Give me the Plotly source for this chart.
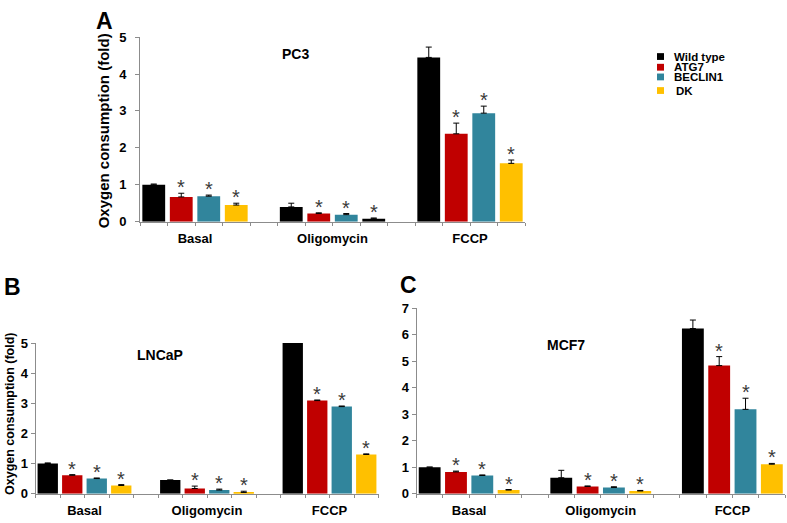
import plotly.graph_objects as go

# ---------------- data ----------------
groups = ["Basal", "Oligomycin", "FCCP"]
series = ["Wild type", "ATG7", "BECLIN1", "DK"]
colors = ["#000000", "#C00000", "#31859C", "#FFC000"]

# PC3 (panel A)
pc3_wt = [1.00, 0.40, 4.45]
pc3_atg7 = [0.67, 0.22, 2.38]
pc3_beclin1 = [0.69, 0.19, 2.94]
pc3_dk = [0.45, 0.08, 1.58]
pc3_wt_err = [0.02, 0.10, 0.28]
pc3_atg7_err = [0.10, 0.02, 0.29]
pc3_beclin1_err = [0.03, 0.03, 0.19]
pc3_dk_err = [0.05, 0.02, 0.09]
pc3_dk_colors = ["#FFC000", "#000000", "#FFC000"]  # Oligomycin DK bar drawn black in the original

# LNCaP (panel B)
lncap_wt = [1.00, 0.45, 5.00]
lncap_atg7 = [0.61, 0.17, 3.09]
lncap_beclin1 = [0.50, 0.12, 2.89]
lncap_dk = [0.27, 0.04, 1.30]
lncap_wt_err = [0.02, 0.00, 0.00]
lncap_atg7_err = [0.02, 0.08, 0.02]
lncap_beclin1_err = [0.02, 0.03, 0.02]
lncap_dk_err = [0.03, 0.04, 0.02]

# MCF7 (panel C)
mcf7_wt = [1.00, 0.60, 6.23]
mcf7_atg7 = [0.82, 0.27, 4.83]
mcf7_beclin1 = [0.685, 0.23, 3.18]
mcf7_dk = [0.135, 0.10, 1.11]
mcf7_wt_err = [0.00, 0.28, 0.32]
mcf7_atg7_err = [0.03, 0.02, 0.34]
mcf7_beclin1_err = [0.02, 0.03, 0.42]
mcf7_dk_err = [0.02, 0.02, 0.03]

y_title = "Oxygen consumption (fold)"

FONT = "Liberation Sans, Arial, sans-serif"
GREY = "#8C8C8C"
W, H = 787, 523

panels = [
    dict(ax="", title="PC3", letter="A", ymax=5,
         vals=[pc3_wt, pc3_atg7, pc3_beclin1, pc3_dk],
         errs=[pc3_wt_err, pc3_atg7_err, pc3_beclin1_err, pc3_dk_err],
         cols=[colors[0], colors[1], colors[2], pc3_dk_colors],
         xdom=(140, 525), ybot=221, ytop=31, standoff=6,
         title_xy=(295, 48), letter_xy=(104, 14)),
    dict(ax="2", title="LNCaP", letter="B", ymax=5,
         vals=[lncap_wt, lncap_atg7, lncap_beclin1, lncap_dk],
         errs=[lncap_wt_err, lncap_atg7_err, lncap_beclin1_err, lncap_dk_err],
         cols=colors,
         xdom=(35.5, 378.5), ybot=501, ytop=346, standoff=0,
         title_xy=(160, 358), letter_xy=(12, 288)),
    dict(ax="3", title="MCF7", letter="C", ymax=7,
         vals=[mcf7_wt, mcf7_atg7, mcf7_beclin1, mcf7_dk],
         errs=[mcf7_wt_err, mcf7_atg7_err, mcf7_beclin1_err, mcf7_dk_err],
         cols=colors,
         xdom=(416.5, 785), ybot=501, ytop=310, standoff=0,
         title_xy=(566, 348), letter_xy=(408, 286)),
]

fig = go.Figure()
annotations = []
shapes = []

def px(x):
    return x / W

def py(y):
    return 1 - y / H

tickvals = list(range(15))
ticktext = [""] * 15
for g, name in enumerate(groups):
    ticktext[g * 5 + 2] = name

for p in panels:
    xa = "x" + p["ax"]
    ya = "y" + p["ax"]
    for s in range(4):
        xs = [g * 5 + s + 0.5 for g in range(3)]
        fig.add_trace(go.Bar(
            x=xs, y=p["vals"][s], width=0.83,
            marker=dict(color=p["cols"][s], line=dict(width=0)),
            error_y=dict(type="data", array=p["errs"][s], arrayminus=[0, 0, 0],
                         symmetric=False, color="#000000", thickness=1, width=3),
            name=series[s], showlegend=False, xaxis=xa, yaxis=ya,
        ))
        if s > 0:
            for g in range(3):
                annotations.append(dict(
                    x=xs[g], y=p["vals"][s][g] + p["errs"][s][g],
                    xref=xa, yref=ya, text="*", showarrow=False,
                    yanchor="middle", xanchor="center", yshift=6,
                    font=dict(family=FONT, size=20, color="#3A3A3A"),
                ))
    key = p["ax"]
    fig.layout["xaxis" + key] = dict(
        domain=[px(p["xdom"][0]), px(p["xdom"][1])], range=[0, 14],
        anchor=ya, tickmode="array", tickvals=tickvals, ticktext=ticktext,
        ticks="outside", ticklen=3, tickcolor=GREY, showline=True, linecolor=GREY,
        linewidth=1, showgrid=False, zeroline=False, fixedrange=True,
        ticklabelstandoff=2,
        tickfont=dict(family=FONT, size=13, color="#000000", weight="bold"),
    )
    fig.layout["yaxis" + key] = dict(
        domain=[py(p["ybot"]), py(p["ytop"])], range=[0, p["ymax"]], dtick=1,
        anchor=xa, ticks="outside", ticklen=4, tickcolor=GREY, showline=True,
        linecolor=GREY, linewidth=1, showgrid=False, zeroline=False,
        ticklabelstandoff=p["standoff"],
        tickfont=dict(family=FONT, size=13, color="#000000", weight="bold"),
    )
    annotations.append(dict(
        x=px(p["title_xy"][0]), y=py(p["title_xy"][1]), xref="paper", yref="paper",
        text=p["title"], showarrow=False, xanchor="center", yanchor="middle",
        font=dict(family=FONT, size=14, color="#000000", weight="bold"),
    ))
    annotations.append(dict(
        x=px(p["letter_xy"][0]), y=py(p["letter_xy"][1]), xref="paper", yref="paper",
        text=p["letter"], showarrow=False, xanchor="center", yanchor="middle",
        font=dict(family=FONT, size=23, color="#000000", weight="bold"),
    ))

# y axis titles
annotations.append(dict(
    x=px(103), y=py(128), xref="paper", yref="paper", text=y_title,
    textangle=-90, showarrow=False, xanchor="center", yanchor="middle",
    font=dict(family=FONT, size=15, color="#000000", weight="bold"),
))
annotations.append(dict(
    x=px(10), y=py(419), xref="paper", yref="paper", text=y_title,
    textangle=-90, showarrow=False, xanchor="center", yanchor="middle",
    font=dict(family=FONT, size=12.5, color="#000000", weight="bold"),
))

# legend
legend_rows = [51, 62, 72, 86]
legend_text_x = [672, 672, 672, 674]
for i, name in enumerate(series):
    yc = legend_rows[i]
    shapes.append(dict(
        type="rect", xref="paper", yref="paper",
        x0=px(657), x1=px(664), y0=py(yc + 3.5), y1=py(yc - 3.5),
        fillcolor=colors[i], line=dict(width=0),
    ))
    annotations.append(dict(
        x=px(legend_text_x[i]), y=py(yc), xref="paper", yref="paper", text=name,
        showarrow=False, xanchor="left", yanchor="middle",
        font=dict(family=FONT, size=11.5, color="#000000", weight="bold"),
    ))

fig.update_layout(
    width=W, height=H, margin=dict(l=0, r=0, t=0, b=0),
    paper_bgcolor="white", plot_bgcolor="white",
    barmode="overlay", showlegend=False,
    annotations=annotations, shapes=shapes,
)

fig.write_html(
    "out.html",
    config={"displayModeBar": False},
    post_script="document.body.style.margin='0px';document.body.style.overflow='hidden';",
)
